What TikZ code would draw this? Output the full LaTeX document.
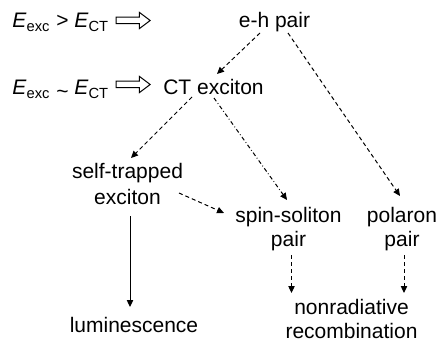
\documentclass[tikz,border=0pt]{standalone}
\usepackage{fontspec}
\setmainfont{Liberation Sans}
\usepackage{tikz}
\usetikzlibrary{arrows.meta,positioning,shapes.arrows,calc}
\tikzset{
  lbl/.style={inner sep=0pt, align=center, font=\fontsize{10.5}{12}\selectfont},
  dblar/.style={single arrow, draw=black, line width=0.5pt, fill=white,
                inner xsep=0pt, inner ysep=1.375pt, minimum width=0pt,
                minimum height=17pt, single arrow head extend=2.4pt,
                single arrow tip angle=74},
  ar/.style={-{Triangle[length=3.5pt,width=3.2pt]}, draw=black, line width=0.5pt},
  dsh/.style={ar, dash pattern=on 2pt off 1.5pt},
  dshdot/.style={ar, dash pattern=on 2pt off 1.2pt on 0.4pt off 1.2pt},
}
\newcommand{\Eexc}{\textit{E}\textsubscript{exc}}
\newcommand{\Ect}{\textit{E}\textsubscript{CT}}

\begin{document}
\begin{tikzpicture}[x=0.5pt, y=-0.5pt]
  \useasboundingbox (0,0) rectangle (439,342);

  % energy conditions
  \node[lbl, anchor=base west] (cond1) at (12,28) {\Eexc{} > \Ect};
  \node[lbl, anchor=base west] (cond2) at (12,95) {\Eexc{} \raisebox{-0.3ex}{\textasciitilde} \Ect};
  \node[dblar] (imp1) at (131,20.5) {};
  \node[dblar] (imp2) at (131,84.5) {};

  % states
  \node[lbl, anchor=base]  (eh)  at (274.5,28)  {e-h pair};
  \node[lbl, anchor=base]  (ct)  at (213.5,95)  {CT exciton};
  \node[lbl, anchor=north, font=\fontsize{10.5}{13}\selectfont]
                           (st)  at (127.5,163) {self-trapped\\exciton};
  \node[lbl, anchor=north] (ss)  at (288.5,207) {spin-soliton\\pair};
  \node[lbl, anchor=north] (pol) at (402,207)   {polaron\\pair};
  \node[lbl, anchor=base]  (lum) at (134,332)   {luminescence};
  \node[lbl, anchor=north] (nr)  at (351.5,299) {nonradiative\\recombination};

  % relaxation paths
  \draw[dsh] ($(eh.base)+(-14.5,5)$) -- ($(ct.base)+(3.5,-21)$);
  \draw[dsh] ($(eh.base)+(13.5,5)$) -- ($(pol.north)+(-2,-11)$);
  \draw[dsh] ($(ct.base)+(-21.5,2)$) -- ($(st.north)+(3.5,-5)$);
  \draw[dshdot] ($(ct.base)+(0.5,3)$) -- ($(ss.north)+(-1.5,-7)$);
  \draw[dsh] ($(st.north)+(51.5,30)$) -- ($(ss.north)+(-64.5,6)$);
  \draw[ar] ($(st.north)+(2.5,53)$) -- ($(lum.base)+(-4,-25)$);
  \draw[dsh] ($(ss.north)+(3,48)$) -- ($(nr.north)+(-60,-6)$);
  \draw[dsh] ($(pol.north)+(2,48)$) -- ($(nr.north)+(52.5,-6)$);
\end{tikzpicture}
\end{document}
